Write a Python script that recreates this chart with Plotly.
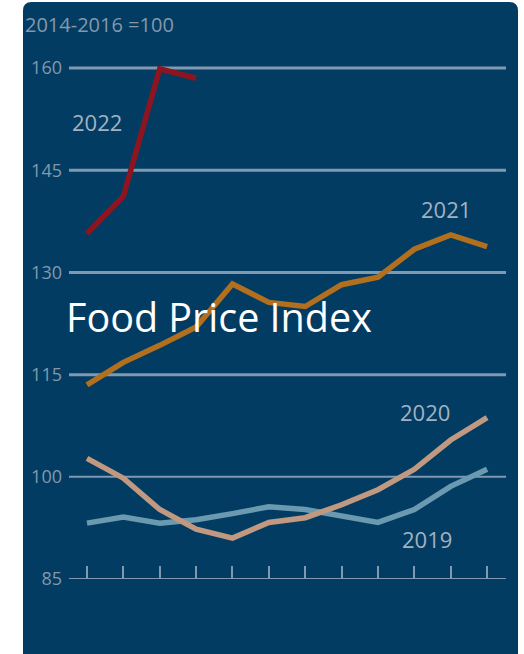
import plotly.graph_objects as go

months = list(range(1, 13))
y2022 = [135.7, 141.2, 159.9, 158.5]
y2021 = [113.5, 116.8, 119.3, 122.0, 128.3, 125.6, 125.0, 128.2, 129.3, 133.4, 135.5, 133.8]
y2020 = [102.7, 99.8, 95.2, 92.3, 91.0, 93.3, 94.0, 95.9, 98.1, 101.1, 105.4, 108.7]
y2019 = [93.2, 94.1, 93.2, 93.7, 94.6, 95.6, 95.2, 94.2, 93.3, 95.2, 98.6, 101.1]
grid_values = [85, 100, 115, 130, 145, 160]

NAVY = "#023c63"
GRID = "#8199b0"
TXT = "#8298ac"
LBL = "#a3b2c0"

fig = go.Figure()
series = [
    ("2019", y2019, "#6b9ab0"),
    ("2020", y2020, "#c19880"),
    ("2021", y2021, "#b26f1d"),
    ("2022", y2022, "#8e1520"),
]
for name, vals, col in series:
    fig.add_trace(go.Scatter(x=months[:len(vals)], y=vals, mode="lines", name=name,
                             line=dict(color=col, width=5.5), showlegend=False))

# panel background with rounded top corners (paper coordinates)
L, R, T, B = -0.1053, 1.0275, 1.0587, -0.2
rx, ry = 0.02, 0.016
path = (f"M {L},{B} L {L},{T-ry} Q {L},{T} {L+rx},{T} L {R-rx},{T} "
        f"Q {R},{T} {R},{T-ry} L {R},{B} Z")
shapes = [dict(type="path", path=path, xref="paper", yref="paper",
               fillcolor=NAVY, line=dict(width=0), layer="below")]
for v in grid_values:
    shapes.append(dict(type="line", xref="paper", yref="y", x0=0, x1=1, y0=v, y1=v,
                       line=dict(color=GRID, width=3 if v > 100 else 2), layer="between"))
fig.update_layout(shapes=shapes)

annots = [
    dict(x=1.27, y=152.1, text="2022"),
    dict(x=10.87, y=139.3, text="2021"),
    dict(x=10.3, y=109.5, text="2020"),
    dict(x=10.35, y=90.9, text="2019"),
]
for a in annots:
    fig.add_annotation(x=a["x"], y=a["y"], text=a["text"], showarrow=False,
                       font=dict(size=22, color=LBL, family="Open Sans"))
fig.add_annotation(xref="paper", x=-0.012, xanchor="left", y=123.5, text="Food Price Index",
                   showarrow=False, font=dict(size=39.5, color="white", family="Open Sans"))
fig.add_annotation(xref="paper", yref="paper", x=-0.1053, xanchor="left", y=1.018,
                   yanchor="middle", text="2014-2016 =100", showarrow=False,
                   font=dict(size=20, color=TXT, family="Open Sans"))

fig.update_layout(
    width=524, height=654,
    margin=dict(l=69, r=18, t=34, b=75),
    paper_bgcolor="white", plot_bgcolor="rgba(0,0,0,0)",
    font=dict(family="Open Sans", color=TXT),
    xaxis=dict(range=[0.505, 12.52], tickvals=months, showticklabels=False,
               ticks="inside", ticklen=13, tickwidth=2, tickcolor=GRID,
               showline=False, showgrid=False, zeroline=False, fixedrange=True),
    yaxis=dict(range=[85, 165], tickvals=grid_values, showgrid=False, zeroline=False,
               showline=False, ticks="", tickfont=dict(size=18, color=TXT),
               ticklabelstandoff=6, fixedrange=True),
)
fig.write_html("out.html", config={"displayModeBar": False},
               post_script="document.body.style.margin='0';document.body.style.overflow='hidden';")
